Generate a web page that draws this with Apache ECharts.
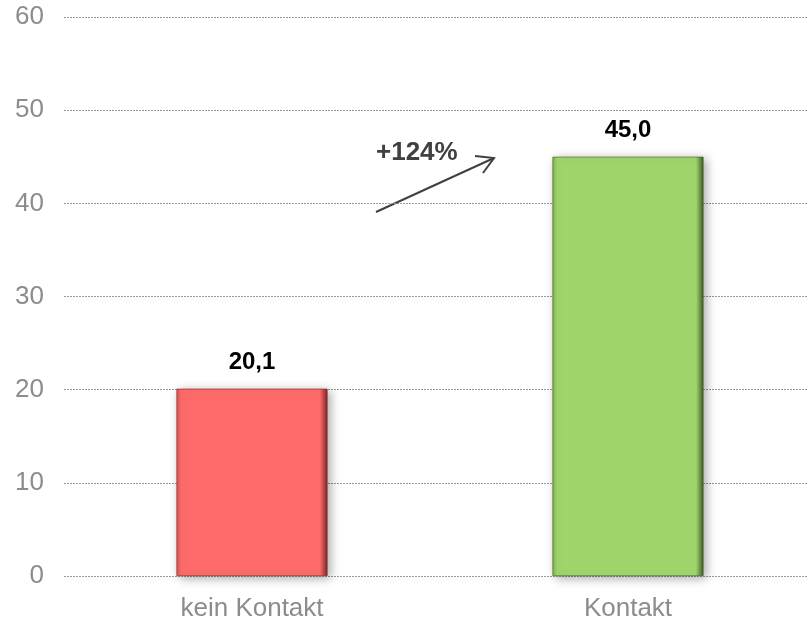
<!DOCTYPE html>
<html>
<head>
<meta charset="utf-8">
<script src="https://cdn.jsdelivr.net/npm/echarts@6/dist/echarts.min.js"></script>
<style>
  html, body { margin: 0; padding: 0; background: #fff; }
  #chart { width: 808px; height: 619px; }
</style>
</head>
<body>
<div id="chart"></div>
<script>
const categories = ["kein Kontakt", "Kontakt"];
const values = [20.1, 45.0];
const barColors = [
  ["#d95252", "#ff6b6b", "#7a2424"],
  ["#7fb24e", "#a0d56c", "#3f5a26"]
];
const changeLabel = "+124%";

let myChart = echarts.init(document.getElementById("chart"));
let gridLine = {
  lineStyle: {
    color: "#9a9a9a",
    type: [2, 1],
    width: 1
  }
};

function barGradient(c) {
  return new echarts.graphic.LinearGradient(0, 0, 1, 0, [
    { offset: 0, color: c[0] },
    { offset: 0.03, color: c[1] },
    { offset: 0.95, color: c[1] },
    { offset: 1, color: c[2] }
  ]);
}

myChart.setOption({
  animation: false,
  grid: {
    top: 17,
    left: 64,
    width: 752,
    bottom: 43,
    containLabel: false,
    outerBoundsMode: "none"
  },
  xAxis: {
    type: "category",
    data: categories,
    axisLine: { show: false },
    axisTick: { show: false },
    axisLabel: {
      color: "#8c8c8c",
      fontSize: 26,
      fontFamily: "Liberation Sans",
      margin: 20
    }
  },
  yAxis: {
    type: "value",
    min: 0,
    max: 60,
    interval: 10,
    axisLine: { show: false },
    axisTick: { show: false },
    axisLabel: {
      color: "#8c8c8c",
      fontSize: 26,
      fontFamily: "Liberation Sans",
      margin: 20
    },
    splitLine: gridLine
  },
  series: [
    {
      type: "bar",
      barWidth: 151,
      data: values.map((v, i) => ({
        value: v,
        itemStyle: {
          color: barGradient(barColors[i]),
          borderColor: barColors[i][2],
          borderWidth: 0.6,
          shadowBlur: 10,
          shadowColor: "rgba(0,0,0,0.35)",
          shadowOffsetX: 3,
          shadowOffsetY: 2
        }
      })),
      label: {
        show: true,
        position: "top",
        distance: 14,
        color: "#000",
        fontSize: 24,
        fontWeight: "bold",
        fontFamily: "Liberation Sans",
        formatter: p => p.value.toFixed(1).replace(".", ",")
      }
    }
  ],
  graphic: [
    {
      type: "line",
      shape: { x1: 376, y1: 212, x2: 494, y2: 158 },
      style: { stroke: "#404040", lineWidth: 2 }
    },
    {
      type: "polyline",
      shape: { points: [[475, 156], [494, 158], [483, 173]] },
      style: { stroke: "#404040", lineWidth: 2, fill: null }
    },
    {
      type: "text",
      left: 376,
      top: 140,
      style: {
        text: changeLabel,
        fill: "#404040",
        font: "bold 26px 'Liberation Sans'"
      }
    }
  ]
});
</script>
</body>
</html>
